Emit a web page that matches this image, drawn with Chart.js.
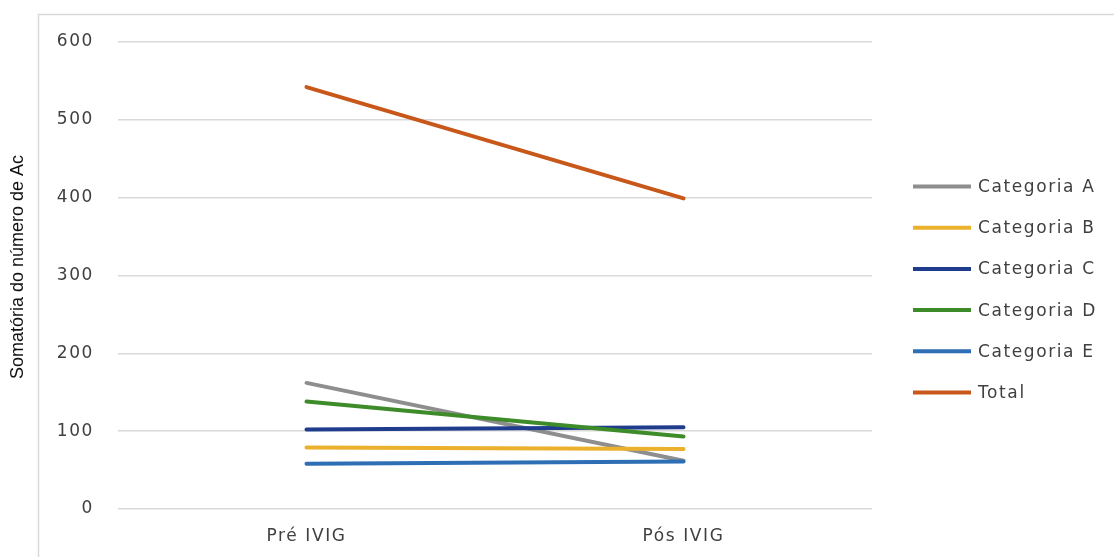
<!DOCTYPE html>
<html>
<head>
<meta charset="utf-8">
<script src="https://cdn.jsdelivr.net/npm/chart.js@4/dist/chart.umd.min.js"></script>
<style>
  html, body { margin: 0; padding: 0; background: #fff; }
  canvas { display: block; }
</style>
</head>
<body>
<canvas id="chart" width="1114" height="557"></canvas>
<script>
// Sum of antibody counts before and after IVIG, by category
const categories = ['Pré IVIG', 'Pós IVIG'];
const seriesNames = ['Categoria A', 'Categoria B', 'Categoria C', 'Categoria D', 'Categoria E', 'Total'];
const categoriaA = [162, 62];
const categoriaB = [79, 77];
const categoriaC = [102, 105];
const categoriaD = [138, 93];
const categoriaE = [58, 61];
const total = [542, 399];
const yTicks = [0, 100, 200, 300, 400, 500, 600];
const yTitle = 'Somatória do número de Ac';

const seriesValues = [categoriaA, categoriaB, categoriaC, categoriaD, categoriaE, total];
const seriesColors = ['#8e8e8e', '#ebb02c', '#1f3d8c', '#3e8b2a', '#2e6eb5', '#c8581a'];

const TEXT = '#404040';
const GRID = '#d9d9d9';
const SPACING = '1.6px';

// Light frame, letter spacing for axis text
const framePlugin = {
  id: 'frame',
  beforeDraw(chart) {
    const ctx = chart.ctx;
    ctx.save();
    ctx.fillStyle = '#ffffff';
    ctx.fillRect(0, 0, chart.width, chart.height);
    ctx.strokeStyle = GRID;
    ctx.lineWidth = 1.5;
    ctx.beginPath();
    ctx.moveTo(38.5, chart.height);
    ctx.lineTo(38.5, 14.5);
    ctx.lineTo(chart.width, 14.5);
    ctx.stroke();
    ctx.restore();
    ctx.letterSpacing = SPACING;
  }
};

// Legend on the right and the rotated y-axis title
const sidePlugin = {
  id: 'side',
  afterDraw(chart) {
    const ctx = chart.ctx;
    ctx.save();
    chart.data.datasets.forEach((ds, i) => {
      const y = 186.5 + i * 41.2;
      ctx.strokeStyle = ds.borderColor;
      ctx.lineWidth = 4;
      ctx.lineCap = 'butt';
      ctx.beginPath();
      ctx.moveTo(913, y);
      ctx.lineTo(971, y);
      ctx.stroke();
      ctx.letterSpacing = SPACING;
      ctx.fillStyle = TEXT;
      ctx.font = '17px "DejaVu Sans"';
      ctx.textAlign = 'left';
      ctx.textBaseline = 'middle';
      ctx.fillText(ds.label, 978, y + 1);
    });
    ctx.letterSpacing = '0px';
    ctx.translate(18, 267);
    ctx.rotate(-Math.PI / 2);
    ctx.fillStyle = '#111111';
    ctx.font = '18px "Liberation Sans"';
    ctx.textAlign = 'center';
    ctx.textBaseline = 'middle';
    ctx.fillText(yTitle, 0, 0);
    ctx.restore();
  }
};

new Chart(document.getElementById('chart'), {
  type: 'line',
  data: {
    labels: categories,
    datasets: seriesNames.map((name, i) => ({
      label: name,
      data: seriesValues[i],
      borderColor: seriesColors[i],
      backgroundColor: seriesColors[i],
      borderWidth: 4,
      borderCapStyle: 'round',
      pointRadius: 0,
      pointHoverRadius: 0,
      tension: 0,
      clip: false,
      order: seriesNames.length - i
    }))
  },
  options: {
    responsive: false,
    devicePixelRatio: 1,
    animation: false,
    events: [],
    layout: { padding: { left: 0, top: 42, right: 242, bottom: 0 } },
    plugins: {
      legend: { display: false },
      tooltip: { enabled: false }
    },
    scales: {
      x: {
        offset: true,
        grid: { display: false, drawTicks: false },
        border: { display: false },
        ticks: {
          color: TEXT,
          font: { family: 'DejaVu Sans', size: 17 },
          padding: 17,
          maxRotation: 0
        },
        afterFit(scale) { scale.height = 48; }
      },
      y: {
        min: 0,
        max: 600,
        grid: { color: GRID, lineWidth: 1.5, drawTicks: false },
        border: { display: false },
        ticks: {
          color: TEXT,
          font: { family: 'DejaVu Sans', size: 17 },
          padding: 24
        },
        afterBuildTicks(scale) { scale.ticks = yTicks.map(v => ({ value: v })); },
        afterFit(scale) { scale.width = 118; }
      }
    }
  },
  plugins: [framePlugin, sidePlugin]
});
</script>
</body>
</html>
